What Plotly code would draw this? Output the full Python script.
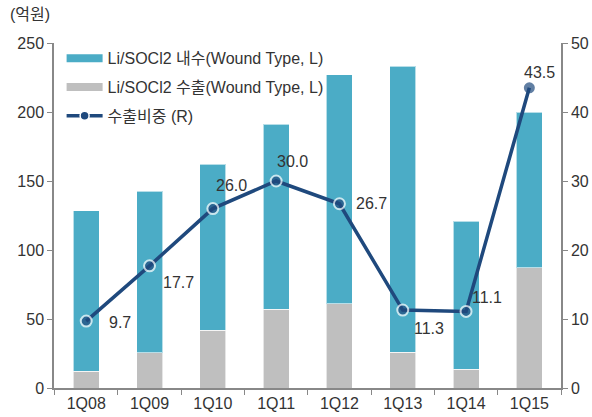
import plotly.graph_objects as go

categories = ["1Q08", "1Q09", "1Q10", "1Q11", "1Q12", "1Q13", "1Q14", "1Q15"]
domestic = [116, 117, 120, 134, 166, 207, 107.5, 113]
export = [12.3, 25.4, 42, 57, 61, 26, 13.5, 87]
export_ratio = [9.7, 17.7, 26.0, 30.0, 26.7, 11.3, 11.1, 43.5]
ratio_labels = ["9.7", "17.7", "26.0", "30.0", "26.7", "11.3", "11.1", "43.5"]

# label placement relative to each point (xanchor, xshift, yshift)
label_place = [("left", 21, -1), ("left", 11, -17), ("left", 1, 23), ("left", -1, 20),
               ("left", 15, 0), ("left", 9, -18), ("left", 4, 14), ("center", 10, 15)]

BLUE = "#4BACC6"
GRAY = "#BFBFBF"
NAVY = "#1F497D"
TXT = "#333333"
FONT = "Liberation Sans, Noto Sans CJK KR, Arial, sans-serif"
FS = 16

fig = go.Figure()
fig.add_trace(go.Bar(x=categories, y=export, marker=dict(color=GRAY, line=dict(color="rgba(255,255,255,0.6)", width=1)),
                     name="Li/SOCl2 수출(Wound Type, L)", showlegend=False))
fig.add_trace(go.Bar(x=categories, y=domestic, marker=dict(color=BLUE, line=dict(color="rgba(255,255,255,0.6)", width=1)),
                     name="Li/SOCl2 내수(Wound Type, L)", showlegend=False))
fig.add_trace(go.Scatter(x=categories, y=export_ratio, yaxis="y2", mode="lines+markers",
                         line=dict(color=NAVY, width=3.5),
                         marker=dict(size=[11] * 7 + [9], color=NAVY,
                                     line=dict(color=["white"] * 7 + [NAVY], width=2)),
                         name="수출비중 (R)", showlegend=False, cliponaxis=False))
# legend entries
fig.add_trace(go.Scatter(x=[None], y=[None], mode="lines", line=dict(color=BLUE, width=8),
                         name="Li/SOCl2 내수(Wound Type, L)", legendgroup="a"))
fig.add_trace(go.Scatter(x=[None], y=[None], mode="lines", line=dict(color=GRAY, width=8),
                         name="Li/SOCl2 수출(Wound Type, L)", legendgroup="b"))
fig.add_trace(go.Scatter(x=[None], y=[None], mode="lines+markers", line=dict(color=NAVY, width=3.5),
                         marker=dict(size=9, color=NAVY, line=dict(color="white", width=1.5)),
                         name="수출비중 (R)", legendgroup="c"))

annotations = [dict(text="(억원)", xref="paper", yref="paper", x=-0.091, y=1.084,
                    xanchor="left", yanchor="middle", showarrow=False,
                    font=dict(size=FS, color=TXT, family=FONT))]
for cat, val, lab, (xa, xs, ys) in zip(categories, export_ratio, ratio_labels, label_place):
    annotations.append(dict(x=cat, y=val, xref="x", yref="y2", text=lab, showarrow=False,
                            xanchor=xa, yanchor="middle", xshift=xs, yshift=ys,
                            font=dict(size=FS, color=TXT, family=FONT)))

axis_common = dict(showline=True, linecolor="#888888", linewidth=1.5, ticks="outside", ticklen=5,
                   tickcolor="#888888", showgrid=False, zeroline=False, automargin=False,
                   tickfont=dict(size=FS, color=TXT))

fig.update_layout(
    template="none",
    width=592, height=417,
    margin=dict(l=54, r=31, t=43, b=29, autoexpand=False),
    barmode="stack", bargap=0.59,
    plot_bgcolor="white", paper_bgcolor="white",
    font=dict(family=FONT, size=FS, color=TXT),
    showlegend=True,
    legend=dict(x=0.015, y=1.005, xanchor="left", yanchor="top", bgcolor="rgba(0,0,0,0)",
                font=dict(size=FS, color=TXT, family=FONT), itemwidth=36,
                traceorder="grouped", tracegroupgap=5),
    xaxis=dict(axis_common, tickson="boundaries"),
    yaxis=dict(axis_common, range=[0, 250], dtick=50),
    yaxis2=dict(axis_common, range=[0, 50], dtick=10, overlaying="y", side="right"),
    annotations=annotations,
)

fig.write_html("out.html", config={"displayModeBar": False},
               post_script="document.body.style.margin='0';document.body.style.overflow='hidden';")
